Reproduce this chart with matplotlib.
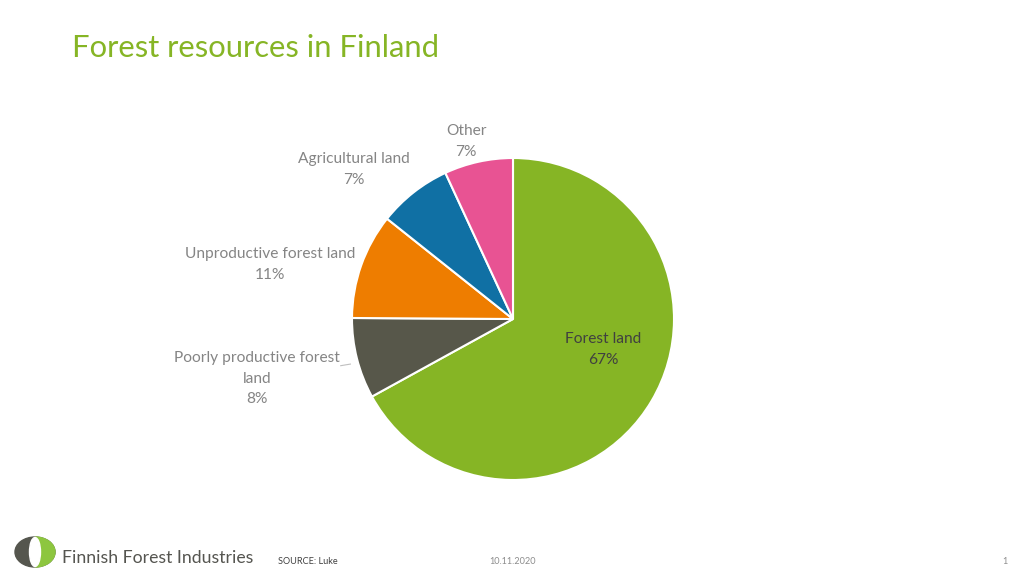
import numpy as np
import matplotlib.pyplot as plt
from matplotlib.patches import Ellipse, Rectangle

plt.rcParams['font.family'] = ['Lato', 'DejaVu Sans']

categories = ['Forest land', 'Poorly productive forest\nland', 'Unproductive forest land',
              'Agricultural land', 'Other']
shares = [67.0, 8.1, 10.6, 7.4, 6.9]
colors = ['#86B525', '#57574A', '#EE7D00', '#1070A4', '#E85393']
# label anchor positions (pie data units)
label_pos = [(0.56, -0.19), (-1.59, -0.37), (-1.51, 0.34), (-0.99, 0.93), (-0.29, 1.10)]

W, H = 1024, 576
fig = plt.figure(figsize=(W / 100, H / 100), dpi=100)

cx, cy, r = 513, 319, 161
ax = fig.add_axes([(cx - r) / W, (H - cy - r) / H, 2 * r / W, 2 * r / H])
ax.pie(shares, colors=colors, startangle=90, counterclock=False, radius=1,
       wedgeprops=dict(edgecolor='white', linewidth=1.5))
ax.set_xlim(-1, 1)
ax.set_ylim(-1, 1)
ax.set_aspect('equal')
ax.axis('off')

total = sum(shares)
for i, (cat, val) in enumerate(zip(categories, shares)):
    pct = round(val / total * 100)
    col = '#404040' if i == 0 else '#858585'
    ax.text(label_pos[i][0], label_pos[i][1], f'{cat}\n{pct}%', ha='center', va='center',
            fontsize=11.2, color=col, linespacing=1.62, clip_on=False)
# leader line for the small slice
ax.plot([-1.07, -1.01], [-0.29, -0.28], color='#BFBFBF', lw=0.8, clip_on=False)

fig.text(72 / W, 1 - 48 / H, 'Forest resources in Finland', fontsize=22.3, color='#86B525',
         ha='left', va='center')

# footer logo
lax = fig.add_axes([0, 0, 1, 1], zorder=-1)
lax.set_xlim(0, W)
lax.set_ylim(H, 0)
lax.axis('off')
lax.add_patch(Ellipse((35, 552), 40, 30, color='#55564E'))
green = Ellipse((35, 552), 40, 30, color='#8DC63F')
lax.add_patch(green)
green.set_clip_path(Rectangle((35, 530), 30, 50, transform=lax.transData))
lax.add_patch(Ellipse((35, 552), 11, 29, color='white'))

fig.text(62 / W, 1 - 558 / H, 'Finnish Forest Industries', fontsize=12.7, color='#555550',
         ha='left', va='center')
fig.text(278 / W, 1 - 561 / H, 'SOURCE: Luke', fontsize=6.6, color='#404040',
         ha='left', va='center')
fig.text(513 / W, 1 - 562 / H, '10.11.2020', fontsize=6.6, color='#8C8C8C',
         ha='center', va='center')
fig.text(1005 / W, 1 - 562 / H, '1', fontsize=6.6, color='#8C8C8C',
         ha='center', va='center')

fig.savefig('out.png', dpi=100, facecolor='white')
